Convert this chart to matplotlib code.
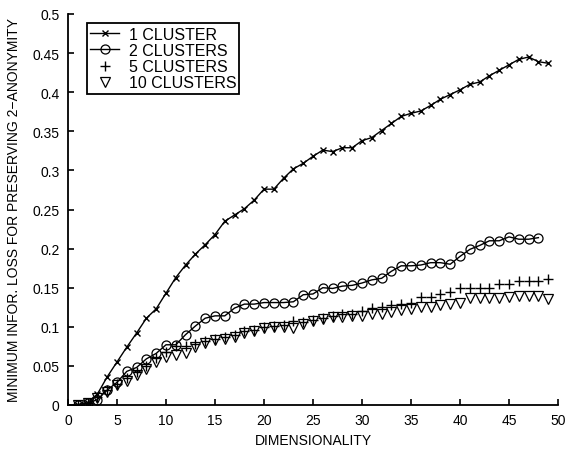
import matplotlib
matplotlib.use("Agg")
import matplotlib.pyplot as plt
import numpy as np

plt.rcParams['font.family'] = ['Liberation Sans', 'DejaVu Sans']

x1 = list(range(1, 50))
s1 = [0.000, 0.003, 0.014, 0.036, 0.055, 0.074, 0.092, 0.111, 0.123, 0.143,
      0.163, 0.179, 0.193, 0.205, 0.218, 0.235, 0.243, 0.251, 0.262, 0.276,
      0.276, 0.290, 0.302, 0.309, 0.318, 0.326, 0.324, 0.329, 0.329, 0.338,
      0.342, 0.351, 0.360, 0.369, 0.373, 0.376, 0.383, 0.391, 0.397, 0.403,
      0.410, 0.413, 0.421, 0.428, 0.435, 0.442, 0.445, 0.439, 0.437]

x2 = list(range(1, 49))
s2 = [0.000, 0.002, 0.007, 0.019, 0.029, 0.043, 0.048, 0.059, 0.066, 0.077,
      0.077, 0.090, 0.101, 0.111, 0.114, 0.114, 0.124, 0.129, 0.129, 0.131,
      0.131, 0.131, 0.132, 0.141, 0.142, 0.150, 0.149, 0.152, 0.153, 0.156,
      0.160, 0.162, 0.171, 0.178, 0.178, 0.179, 0.182, 0.182, 0.180, 0.190,
      0.199, 0.204, 0.210, 0.210, 0.215, 0.212, 0.212, 0.214]

x5 = list(range(1, 50))
s5 = [0.000, 0.002, 0.010, 0.019, 0.027, 0.035, 0.042, 0.050, 0.060, 0.068,
      0.075, 0.076, 0.078, 0.082, 0.085, 0.087, 0.089, 0.094, 0.096, 0.100,
      0.101, 0.102, 0.108, 0.106, 0.109, 0.111, 0.114, 0.117, 0.117, 0.120,
      0.124, 0.125, 0.128, 0.129, 0.131, 0.138, 0.138, 0.142, 0.145, 0.149,
      0.149, 0.150, 0.150, 0.155, 0.155, 0.159, 0.159, 0.159, 0.161]

x10 = list(range(1, 50))
s10 = [0.000, 0.002, 0.009, 0.017, 0.025, 0.031, 0.038, 0.046, 0.055, 0.062,
       0.064, 0.067, 0.074, 0.079, 0.083, 0.085, 0.087, 0.092, 0.095, 0.099,
       0.100, 0.100, 0.098, 0.104, 0.107, 0.110, 0.113, 0.113, 0.114, 0.114,
       0.116, 0.117, 0.119, 0.121, 0.123, 0.125, 0.125, 0.128, 0.129, 0.131,
       0.137, 0.137, 0.137, 0.137, 0.138, 0.140, 0.140, 0.140, 0.136]

xticks = [0, 5, 10, 15, 20, 25, 30, 35, 40, 45, 50]
yticks = [0, 0.05, 0.1, 0.15, 0.2, 0.25, 0.3, 0.35, 0.4, 0.45, 0.5]
ytick_labels = ["0", "0.05", "0.1", "0.15", "0.2", "0.25", "0.3", "0.35", "0.4", "0.45", "0.5"]

fig = plt.figure(figsize=(5.65, 4.56), dpi=100)
ax = fig.add_axes([68/565, 50/456, 490/565, 391/456])

ax.plot(x1, s1, color='black', lw=1.0, marker='x', ms=5, mew=1.0, label='1 CLUSTER')
ax.plot(x2, s2, color='black', lw=1.0, marker='o', ms=6.5, mfc='none', mew=0.9, label='2 CLUSTERS')
ax.plot(x5, s5, color='black', lw=0, marker='+', ms=7, mew=1.0, label='5 CLUSTERS')
ax.plot(x10, s10, color='black', lw=0, marker='v', ms=7, mfc='none', mew=0.9, label='10 CLUSTERS')

ax.set_xlim(0, 50)
ax.set_ylim(0, 0.5)
ax.set_xticks(xticks)
ax.set_yticks(yticks)
ax.set_yticklabels(ytick_labels)
ax.tick_params(direction='in', length=4, width=1.2, labelsize=10, colors='black', pad=6)
for s in ['top', 'right']:
    ax.spines[s].set_visible(False)
for s in ['left', 'bottom']:
    ax.spines[s].set_linewidth(1.3)

ax.set_xlabel('DIMENSIONALITY', fontsize=10, labelpad=4)
ax.set_ylabel('MINIMUM INFOR. LOSS FOR PRESERVING 2\u2212ANONYMITY', fontsize=10, labelpad=8)

leg = ax.legend(loc='upper left', bbox_to_anchor=(0.039, 0.976), fontsize=11.5,
                frameon=True, fancybox=False, edgecolor='black', framealpha=1,
                handlelength=1.8, handletextpad=0.6, borderpad=0.2, labelspacing=0.08,
                borderaxespad=0)
leg.get_frame().set_linewidth(1.3)

fig.savefig('out.png', dpi=100)
